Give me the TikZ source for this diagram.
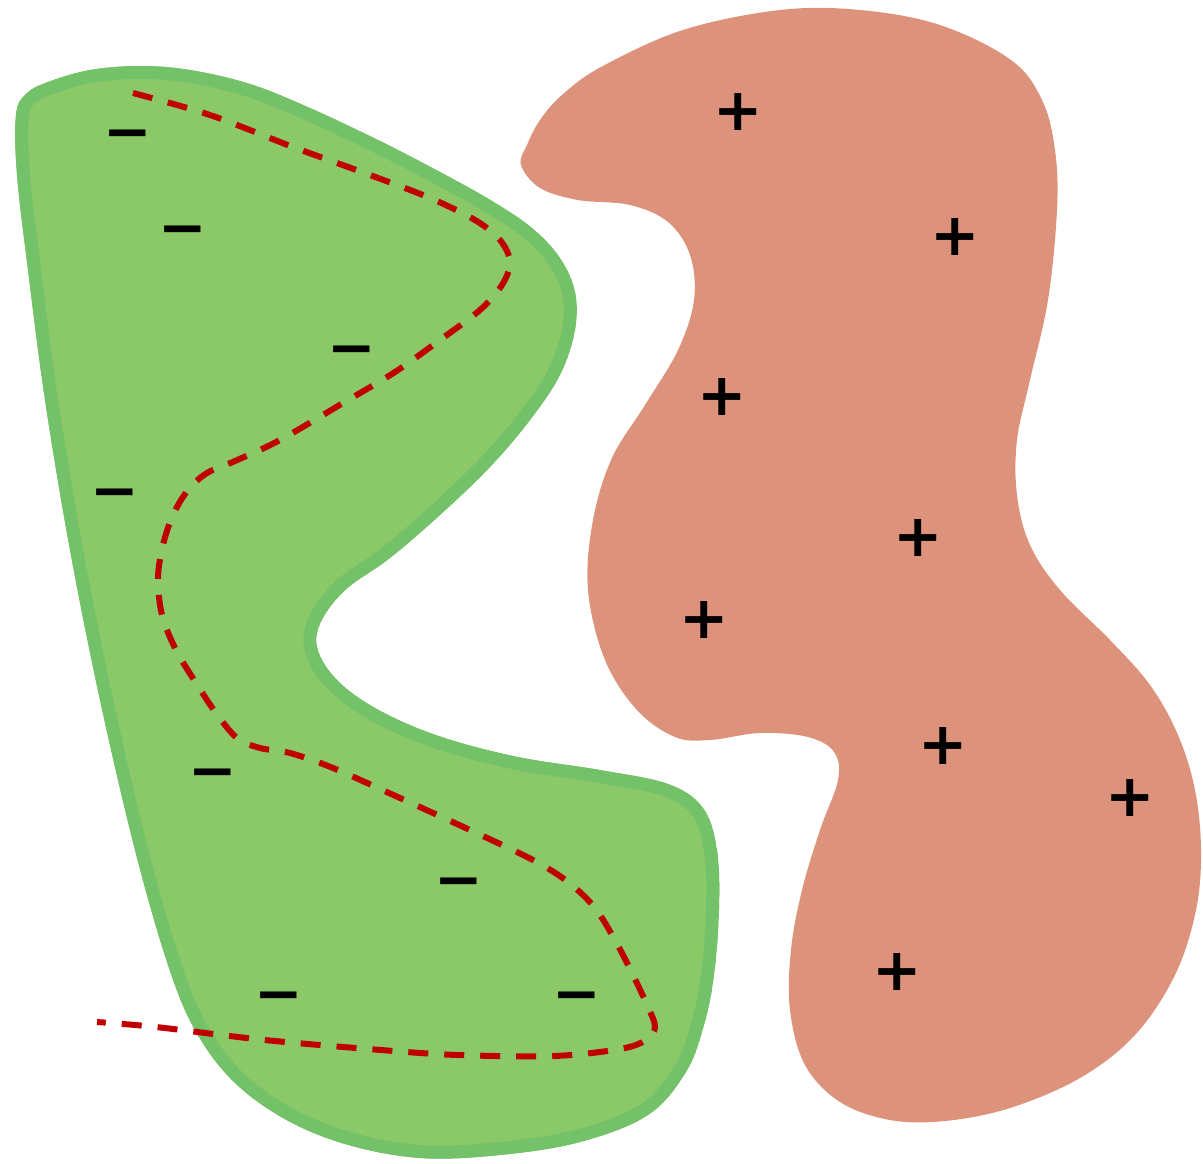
\documentclass[tikz,border=0pt]{standalone}
\usepackage{fontspec}
\newfontfamily\signfont{DejaVu Sans}
\definecolor{leafgreen}{HTML}{8BC868}
\definecolor{leafedge}{HTML}{73C269}
\definecolor{clay}{HTML}{DD937B}
\definecolor{dashred}{HTML}{C00000}
\tikzset{
  negsign/.style={font=\signfont\bfseries\fontsize{58}{58}\selectfont, inner sep=0pt, yshift=-7pt},
  possign/.style={font=\signfont\bfseries\fontsize{59}{59}\selectfont, inner sep=0pt},
  boundary/.style={draw=dashred, line width=6pt, dash pattern=on 20pt off 16pt},
  blob/.style={smooth cycle, tension=0.6},
}
\begin{document}
\begin{tikzpicture}[x=1pt,y=-1pt]
\useasboundingbox (0,0) rectangle (1203,1163);

% positive region
\fill[clay] plot[blob] coordinates {
  (521,165) (527,145) (540,120) (562,95) (601,67) (683,30) (780,10) (860,10)
  (940,25) (1011,60) (1042,100) (1055,150) (1057,210) (1048,300) (1030,380)
  (1017,440) (1017,495) (1030,545) (1060,590) (1110,640) (1150,685) (1178,735)
  (1195,790) (1201,850) (1196,910) (1175,975) (1135,1035) (1080,1078)
  (1010,1108) (945,1121) (890,1120) (840,1102) (805,1065) (790,1010) (791,950)
  (802,890) (820,830) (838,780) (834,752) (808,737) (760,733) (710,740)
  (675,737) (637,710) (605,660) (588,590) (593,520) (612,458) (645,405)
  (678,350) (694,300) (690,255) (668,222) (630,205) (578,200) (540,188)};

% negative region with an inner rim
\path[save path=\greenshape] plot[blob] coordinates {
  (16,115) (26,94) (48,82) (90,70) (140,66) (190,70) (250,84) (310,108)
  (380,141) (440,172) (492,201) (532,228) (560,258) (575,292) (575,330)
  (560,375) (530,420) (490,467) (440,515) (390,558) (342,593) (317,633)
  (327,668) (365,702) (430,733) (513,756) (600,770) (668,784) (703,808)
  (717,850) (719,910) (714,975) (704,1025) (686,1072) (648,1115) (580,1142)
  (500,1155) (420,1158) (345,1144) (283,1118) (232,1080) (195,1030) (168,965)
  (135,850) (100,700) (70,550) (45,400) (28,270) (17,175)};
\begin{scope}
  \clip[use path=\greenshape];
  \fill[leafgreen, use path=\greenshape];
  \draw[leafedge, line width=26pt, line join=round, use path=\greenshape];
\end{scope}

% dashed separating curve
\draw[boundary] plot[smooth, tension=0.55] coordinates {
  (133,93) (210,115) (293,147) (370,175) (430,198) (475,220) (500,240)
  (510,262) (502,285) (480,310) (440,340) (395,372) (343,403)
  (280,440) (235,461) (207,473) (188,490) (173,515) (163,545) (158,578)
  (162,615) (176,650) (196,683) (216,713) (237,738) (260,748) (290,753)
  (333,768) (400,798) (470,830) (533,860) (568,882) (595,908) (616,942)
  (633,975) (648,1007) (655,1027) (646,1040) (620,1049) (554,1056)
  (458,1055) (381,1050) (265,1040) (156,1027) (97,1022)};

% negative charges
\node[negsign] (m1) at (128,134) {−};
\node[negsign] (m2) at (183,230) {−};
\node[negsign] (m3) at (352,350) {−};
\node[negsign] (m4) at (115,493) {−};
\node[negsign] (m5) at (213,773) {−};
\node[negsign] (m6) at (459,882) {−};
\node[negsign] (m7) at (279,996) {−};
\node[negsign] (m8) at (577,996) {−};

% positive charges
\node[possign] (p1) at (738,112) {+};
\node[possign] (p2) at (955,237) {+};
\node[possign] (p3) at (722,397) {+};
\node[possign] (p4) at (918,538) {+};
\node[possign] (p5) at (704,620) {+};
\node[possign] (p6) at (943,746) {+};
\node[possign] (p7) at (1130,798) {+};
\node[possign] (p8) at (897,972) {+};
\end{tikzpicture}
\end{document}
